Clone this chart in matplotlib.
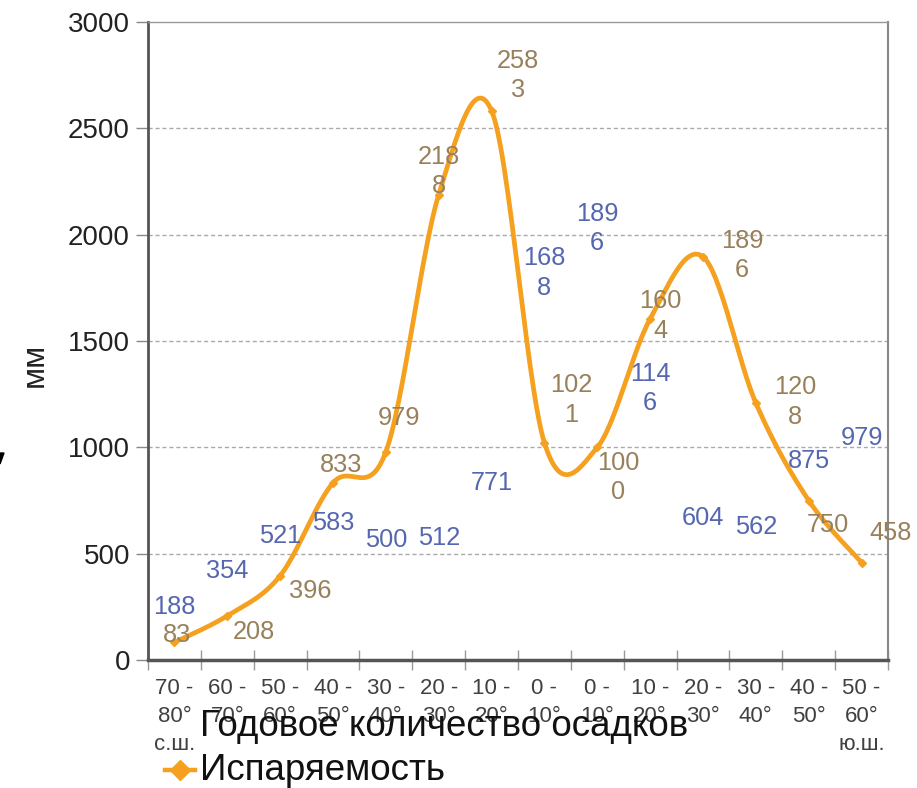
import numpy as np
import matplotlib
matplotlib.use("Agg")
import matplotlib.pyplot as plt
from matplotlib.lines import Line2D
from matplotlib.patches import Polygon

plt.rcParams['font.family'] = ['Liberation Sans', 'DejaVu Sans']

# Data
zones = ["70 -\n80°\nс.ш.", "60 -\n70°", "50 -\n60°", "40 -\n50°", "30 -\n40°",
         "20 -\n30°", "10 -\n20°", "0 -\n10°", "0 -\n10°", "10 -\n20°",
         "20 -\n30°", "30 -\n40°", "40 -\n50°", "50 -\n60°\nю.ш."]
precip = [188, 354, 521, 583, 500, 512, 771, 1688, 1896, 1146, 604, 562, 875, 979]
evap = [83, 208, 396, 833, 979, 2188, 2583, 1021, 1000, 1604, 1896, 1208, 750, 458]

# label offsets for the evaporation series (pixels, dx right / dy down)
evap_off = [(3, -7), (27, 16), (30, 15), (8, -18), (13, -34), (0, -23), (26, -35),
            (27, -43), (21, 30), (10, -3), (39, -1), (39, -1), (19, 25), (29, -30)]

blue = "#5567B0"
brown = "#98805A"
orange = "#F5A01E"


def wrap(v):
    s = str(v)
    return s[:3] + "\n" + s[3:] if len(s) > 3 else s


def smooth(xs, ys, n=30):
    # Catmull-Rom curve, like Excel's smoothed line
    p = np.column_stack([xs, ys]).astype(float)
    p = np.vstack([p[0], p, p[-1]])
    out = []
    for i in range(1, len(p) - 2):
        p0, p1, p2, p3 = p[i - 1], p[i], p[i + 1], p[i + 2]
        c1 = p1 + (p2 - p0) / 6
        c2 = p2 - (p3 - p1) / 6
        t = np.linspace(0, 1, n)[:, None]
        out.append((1 - t) ** 3 * p1 + 3 * (1 - t) ** 2 * t * c1
                   + 3 * (1 - t) * t ** 2 * c2 + t ** 3 * p2)
    out = np.vstack(out)
    return out[:, 0], out[:, 1]


fig = plt.figure(figsize=(9.17, 7.88), dpi=100)
ax = fig.add_axes([148 / 917, 1 - 660 / 788, 740 / 917, 638 / 788])

x = np.arange(len(zones))
sx, sy = smooth(x, evap)
ax.plot(sx, sy, color=orange, lw=3.4, solid_capstyle="round", zorder=3)
ax.plot(x, evap, ls="none", marker="D", ms=4, color=orange, zorder=4)

# data labels
for xi, v in zip(x, precip):
    ax.annotate(wrap(v), (xi, v), xytext=(0, 1), textcoords="offset points",
                ha="center", va="bottom", color=blue, fontsize=18.3,
                linespacing=1.28, zorder=5)
for xi, v, (dx, dy) in zip(x, evap, evap_off):
    ax.annotate(wrap(v), (xi, v), xytext=(dx * 0.72, -dy * 0.72),
                textcoords="offset points", ha="center", va="center",
                color=brown, fontsize=18.3, linespacing=1.28, zorder=5)

ax.set_xlim(-0.5, len(zones) - 0.5)
ax.set_ylim(0, 3000)
ax.set_yticks(np.arange(0, 3001, 500))
ax.set_xticks(x)
ax.set_xticklabels(zones, fontsize=16, color="#404040", linespacing=1.45)
ax.set_xticks(np.arange(-0.5, len(zones), 1), minor=True)
ax.tick_params(axis="x", which="major", length=0, pad=13)
ax.tick_params(axis="x", which="minor", direction="inout", length=15,
               color="#999999", width=1)
ax.tick_params(axis="y", length=9, color="#888888", width=1, pad=4,
               labelsize=20, labelcolor="#222222")

for v in range(500, 3000, 500):
    ax.axhline(v, color="#AAAAAA", lw=1, ls=(0, (3, 2)), zorder=1)

ax.spines["left"].set_color("#555555")
ax.spines["left"].set_linewidth(2)
ax.spines["bottom"].set_color("#555555")
ax.spines["bottom"].set_linewidth(2.5)
ax.spines["top"].set_color("#999999")
ax.spines["top"].set_linewidth(1)
ax.spines["right"].set_color("#888888")
ax.spines["right"].set_linewidth(1.5)

fig.text(35 / 917, 1 - 365 / 788, "мм", rotation=90, ha="center", va="center",
         fontsize=23, color="#222222")

# legend drawn by hand
fig.text(200 / 917, 1 - 727 / 788, "Годовое количество осадков", ha="left",
         va="center", fontsize=26.5, color="#111111")
fig.text(200 / 917, 1 - 770 / 788, "Испаряемость", ha="left", va="center",
         fontsize=26.5, color="#111111")
fig.add_artist(Line2D([165 / 917, 195 / 917], [1 - 770 / 788, 1 - 770 / 788],
                      color=orange, lw=3.2, transform=fig.transFigure))
fig.add_artist(Line2D([180 / 917], [1 - 770 / 788], marker="D", ms=10,
                      color=orange, transform=fig.transFigure))

# cut-off glyph at the left edge
fig.add_artist(Polygon([[0, 1 - 453 / 788], [4 / 917, 1 - 453 / 788],
                        [0, 1 - 464 / 788]], closed=True, color="black",
                       transform=fig.transFigure))

fig.savefig("out.png", dpi=100)
